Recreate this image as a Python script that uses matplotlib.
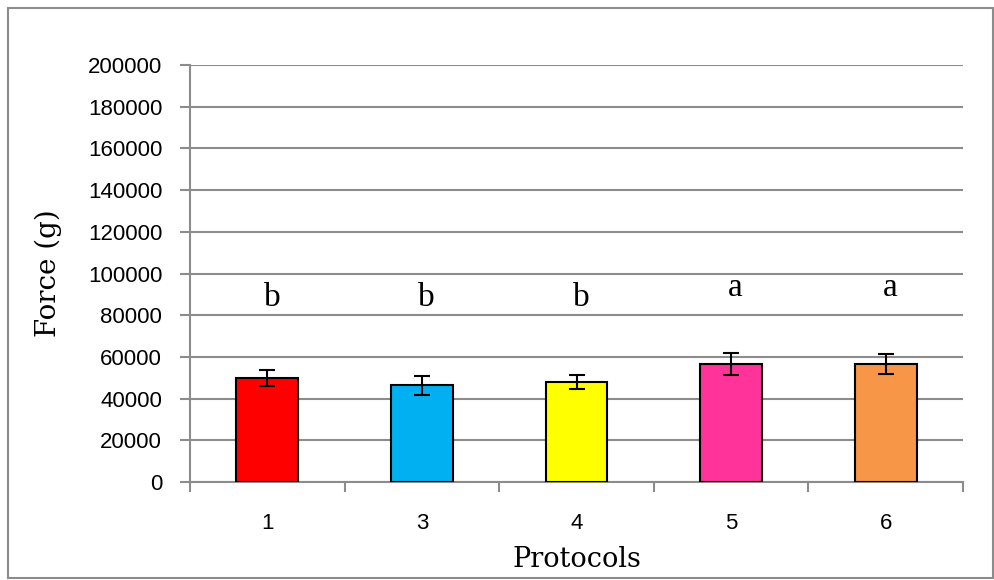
import matplotlib
matplotlib.use("Agg")
import matplotlib.pyplot as plt
from matplotlib.patches import Rectangle
import numpy as np

categories = ["1", "3", "4", "5", "6"]
values = [50000, 46300, 48100, 56600, 56600]
errors = [3900, 4400, 3400, 5200, 4800]
letters = ["b", "b", "b", "a", "a"]
letter_y = [88500, 88500, 88500, 93000, 93000]
colors = ["#FF0000", "#00B0F0", "#FFFF00", "#FF3399", "#F79646"]
yticks = [0, 20000, 40000, 60000, 80000, 100000, 120000, 140000, 160000, 180000, 200000]

fig = plt.figure(figsize=(9.94, 5.80), dpi=100)
fig.patches.append(Rectangle((8/994, 2/580), 985/994, 570/580, transform=fig.transFigure,
                             fill=False, edgecolor="#8c8c8c", linewidth=1.5))
ax = fig.add_axes([190/994, 1-482/580, 773/994, 417/580])

x = np.arange(len(categories))
ax.bar(x, values, width=0.4, color=colors, edgecolor="black", linewidth=1.5, zorder=3)
ax.errorbar(x, values, yerr=errors, fmt="none", ecolor="black", elinewidth=1.5,
            capsize=6, capthick=1.5, zorder=4)
for xi, lt, ly in zip(x, letters, letter_y):
    ax.text(xi + 0.03, ly, lt, ha="center", va="center", fontsize=24, family="Liberation Serif")

ax.set_ylim(0, 200000)
ax.set_xlim(-0.5, len(categories) - 0.5)
ax.set_yticks(yticks)
ax.set_yticklabels([str(v) for v in yticks], fontsize=16, family="Liberation Sans")
ax.set_xticks(x)
ax.set_xticklabels(categories, fontsize=16, family="Liberation Sans")
ax.set_xticks(np.arange(-0.5, len(categories), 1.0), minor=True)
ax.tick_params(axis="x", which="major", length=0, pad=22)
ax.tick_params(axis="x", which="minor", length=7, width=1.5, color="#8c8c8c", direction="out")
ax.tick_params(axis="y", length=7, width=1.5, color="#8c8c8c", direction="out", pad=13)
ax.grid(axis="y", color="#8c8c8c", linewidth=1.5, zorder=0)
ax.set_axisbelow(True)
for s in ["top", "right"]:
    ax.spines[s].set_visible(False)
for s in ["left", "bottom"]:
    ax.spines[s].set_color("#8c8c8c")
    ax.spines[s].set_linewidth(1.5)

ax.set_ylabel("Force (g)", fontsize=20, family="DejaVu Serif")
ax.yaxis.set_label_coords(-0.165, 0.5)
ax.set_xlabel("Protocols", fontsize=19.5, family="DejaVu Serif", labelpad=9)

fig.savefig("out.png", dpi=100)
